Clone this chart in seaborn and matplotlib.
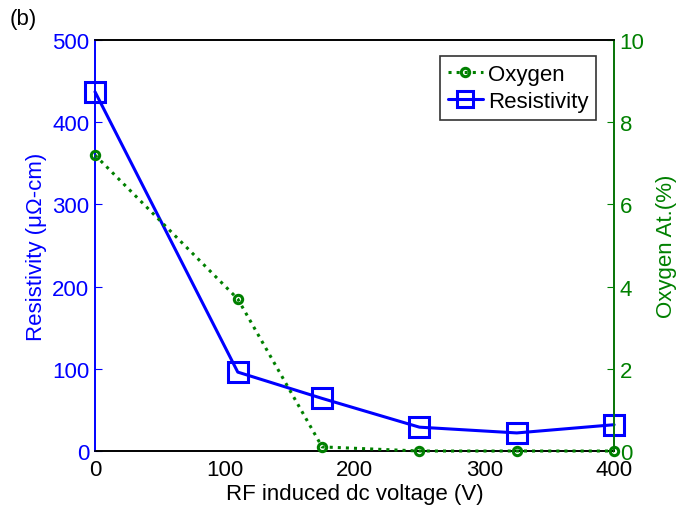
import matplotlib
matplotlib.use("Agg")
import matplotlib.pyplot as plt
import seaborn as sns
import pandas as pd
from matplotlib.lines import Line2D

sns.set_style("white")
plt.rcParams['font.family'] = ['Liberation Sans', 'DejaVu Sans']
plt.rcParams['text.color'] = 'black'
plt.rcParams['axes.labelcolor'] = 'black'

voltage = [0, 110, 175, 250, 325, 400]
resistivity = [437, 96, 64, 29, 22, 32]
oxygen = [7.2, 3.7, 0.1, 0.0, 0.0, 0.0]

df = pd.DataFrame({"voltage": voltage, "resistivity": resistivity, "oxygen": oxygen})

BLUE = "#0000ff"
GREEN = "#008000"
FS = 16

fig = plt.figure(figsize=(6.9, 5.1), dpi=100)
ax = fig.add_axes([0.1377, 0.1137, 0.7523, 0.8059])
ax2 = ax.twinx()

sns.lineplot(data=df, x="voltage", y="resistivity", ax=ax, color=BLUE, lw=2.2,
             marker="s", markersize=14, markerfacecolor="none", markeredgecolor=BLUE,
             markeredgewidth=2.2, zorder=3, clip_on=False)
sns.lineplot(data=df, x="voltage", y="oxygen", ax=ax2, color=GREEN, lw=2.2,
             linestyle=":", marker="o", markersize=6, markerfacecolor="none",
             markeredgecolor=GREEN, markeredgewidth=2.2, zorder=3, clip_on=False)

ax.set_xlim(0, 400)
ax.set_ylim(0, 500)
ax2.set_ylim(0, 10)
ax.set_xticks([0, 100, 200, 300, 400])
ax.set_yticks([0, 100, 200, 300, 400, 500])
ax2.set_yticks([0, 2, 4, 6, 8, 10])

ax.set_xlabel("RF induced dc voltage (V)", fontsize=FS, labelpad=2, color="black")
ax.set_ylabel("Resistivity (\u03bc\u03a9-cm)", fontsize=FS, color=BLUE, labelpad=4)
ax2.set_ylabel("Oxygen At.(%)", fontsize=FS, color=GREEN, labelpad=8)

ax.tick_params(axis="x", direction="in", length=5, labelsize=FS, pad=6, colors="black")
ax.tick_params(axis="y", direction="in", length=5, labelsize=FS, pad=4, colors=BLUE)
ax2.tick_params(axis="y", direction="in", length=5, labelsize=FS, pad=4, colors=GREEN)

for a in (ax, ax2):
    for s in a.spines.values():
        s.set_linewidth(1.2)
ax.spines["left"].set_color(BLUE)
ax.spines["bottom"].set_color("black")
ax.spines["top"].set_color("black")
ax2.spines["right"].set_color(GREEN)
ax2.spines["left"].set_color(BLUE)
ax2.spines["top"].set_color("black")
ax2.spines["bottom"].set_color("black")

handles = [
    Line2D([], [], color=GREEN, lw=2.2, linestyle=":", marker="o", markersize=6,
           markerfacecolor="none", markeredgewidth=2.2),
    Line2D([], [], color=BLUE, lw=2.2, marker="s", markersize=12,
           markerfacecolor="none", markeredgewidth=2.2),
]
leg = ax2.legend(handles, ["Oxygen", "Resistivity"], loc="upper right",
                 bbox_to_anchor=(0.965, 0.96), fontsize=FS, frameon=True,
                 fancybox=False, edgecolor="black", handlelength=1.6,
                 handletextpad=0.2, borderpad=0.35, labelspacing=0.25,
                 borderaxespad=0)
leg.get_frame().set_linewidth(1.2)
for t in leg.get_texts():
    t.set_color("black")

fig.text(0.014, 0.962, "(b)", fontsize=FS, ha="left", va="center", color="black")

fig.savefig("out.png", dpi=100)
